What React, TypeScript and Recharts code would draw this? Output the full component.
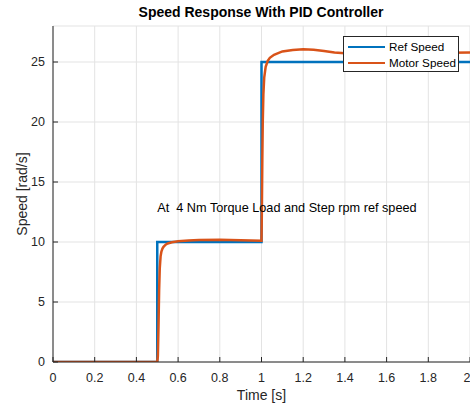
import {
    LineChart,
    Line,
    XAxis,
    YAxis,
    CartesianGrid,
    Legend,
    ReferenceDot,
} from "recharts";

const seriesNames = ["Ref Speed", "Motor Speed"];

// step reference
const refTime = [0, 0.5, 0.5, 1, 1, 2];
const refSpeed = [0, 0, 10, 10, 25, 25];

// motor response
const motorTime = [
    0, 0.5, 0.503, 0.506, 0.509, 0.512, 0.516, 0.52, 0.525, 0.53, 0.54, 0.55, 0.57,
    0.6, 0.65, 0.7, 0.8, 0.9, 0.95, 1.0, 1.002, 1.004, 1.006, 1.009, 1.013, 1.02,
    1.03, 1.04, 1.06, 1.1, 1.15, 1.2, 1.25, 1.3, 1.35, 1.4, 1.5, 1.6, 1.7, 1.8, 1.9, 2.0,
];
const motorSpeed = [
    0, 0, 0.5, 3, 6, 7.8, 8.8, 9.2, 9.45, 9.6, 9.78, 9.88, 9.98,
    10.07, 10.13, 10.17, 10.18, 10.15, 10.12, 10.1, 13, 17, 20, 22.3, 23.7, 24.6,
    25.1, 25.35, 25.6, 25.88, 26.0, 26.06, 26.02, 25.92, 25.8, 25.72, 25.66, 25.66, 25.7, 25.74, 25.78, 25.8,
];

const xTicks = [0, 0.2, 0.4, 0.6, 0.8, 1, 1.2, 1.4, 1.6, 1.8, 2];
const yTicks = [0, 5, 10, 15, 20, 25];

const annotation = "At\u00A0 4 Nm Torque Load and Step rpm ref speed";

const refData = refTime.map((t, i) => ({ t, v: refSpeed[i] }));
const motorData = motorTime.map((t, i) => ({ t, v: motorSpeed[i] }));

const axisColor = "#262626";
const font = "'Liberation Sans', Arial, Helvetica, sans-serif";

function LegendBox({ payload }: any) {
    // keep the series order (recharts sorts by name otherwise)
    const items = [...(payload || [])].sort(
        (a: any, b: any) => seriesNames.indexOf(a.value) - seriesNames.indexOf(b.value)
    );
    return (
        <div
            style={{
                width: 116,
                height: 36,
                boxSizing: "border-box",
                border: "1px solid #262626",
                background: "#fff",
                padding: "2px 0 0 4px",
                fontFamily: font,
            }}
        >
            {items.map((p: any) => (
                <div key={p.value} style={{ display: "flex", alignItems: "center", height: 16 }}>
                    <span
                        style={{
                            display: "inline-block",
                            width: 37,
                            height: 0,
                            borderTop: `2.5px solid ${p.color}`,
                            marginRight: 4,
                        }}
                    />
                    <span style={{ fontSize: 11.7, color: "#000", lineHeight: "16px" }}>{p.value}</span>
                </div>
            ))}
        </div>
    );
}

export default function App() {
    return (
        <div
            style={{
                position: "absolute",
                left: 0,
                top: 0,
                width: 470,
                height: 405,
                background: "#fff",
                fontFamily: font,
                overflow: "hidden",
            }}
        >
            <div
                style={{
                    position: "absolute",
                    left: 0,
                    width: 522,
                    top: 4,
                    textAlign: "center",
                    fontWeight: "bold",
                    fontSize: 14,
                    color: "#000",
                }}
            >
                Speed Response With PID Controller
            </div>
            <LineChart width={470} height={405} margin={{ top: 26, right: 0, bottom: 0, left: 0 }}>
                <CartesianGrid stroke="#e3e3e3" />

                <XAxis
                    dataKey="t"
                    type="number"
                    domain={[0, 2]}
                    ticks={xTicks}
                    allowDataOverflow
                    height={43}
                    tickSize={-5}
                    tickMargin={16}
                    stroke={axisColor}
                    tick={{ fill: axisColor, fontSize: 12.5 }}
                    label={{ value: "Time [s]", position: "insideBottom", offset: 5, fill: axisColor, fontSize: 14 }}
                />
                <XAxis
                    xAxisId="top"
                    orientation="top"
                    type="number"
                    domain={[0, 2]}
                    ticks={xTicks}
                    allowDataOverflow
                    height={0}
                    tick={false}
                    tickSize={-5}
                    stroke={axisColor}
                />
                <YAxis
                    type="number"
                    domain={[0, 28]}
                    ticks={yTicks}
                    allowDataOverflow
                    width={53}
                    tickSize={-5}
                    tickMargin={13}
                    stroke={axisColor}
                    tick={{ fill: axisColor, fontSize: 12.5 }}
                    label={{
                        value: "Speed [rad/s]",
                        angle: -90,
                        position: "insideLeft",
                        offset: 22,
                        fill: axisColor,
                        fontSize: 14,
                        style: { textAnchor: "middle" },
                    }}
                />

                <Legend
                    layout="horizontal"
                    verticalAlign="middle"
                    align="center"
                    wrapperStyle={{ left: 343, top: 36, width: 116, height: 36 }}
                    content={LegendBox}
                />

                <ReferenceDot
                    x={0.5}
                    y={12.9}
                    r={0}
                    fill="none"
                    stroke="none"
                    label={{ value: annotation, position: "right", offset: 0, fill: "#000", fontSize: 12.7 }}
                />

                <Line
                    data={refData}
                    dataKey="v"
                    name={seriesNames[0]}
                    type="linear"
                    stroke="#0072BD"
                    strokeWidth={2.5}
                    dot={false}
                    isAnimationActive={false}
                />
                <Line
                    data={motorData}
                    dataKey="v"
                    name={seriesNames[1]}
                    type="linear"
                    stroke="#D95319"
                    strokeWidth={2.5}
                    dot={false}
                    isAnimationActive={false}
                />
            </LineChart>
        </div>
    );
}
